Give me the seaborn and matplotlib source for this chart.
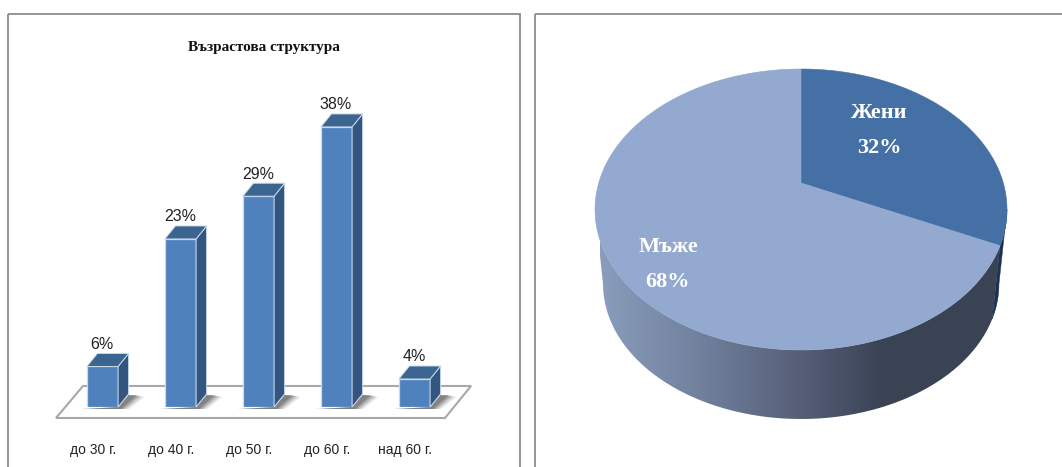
import numpy as np
import pandas as pd
import matplotlib
matplotlib.use("Agg")
import matplotlib.pyplot as plt
import seaborn as sns
from matplotlib.colors import LinearSegmentedColormap
from matplotlib.patches import Polygon, Rectangle
from matplotlib.transforms import ScaledTranslation

# ---- data ----
age_groups = ["до 30 г.", "до 40 г.", "до 50 г.", "до 60 г.", "над 60 г."]
age_shares = [5.5, 22.8, 28.6, 38.0, 3.8]
gender_names = ["Жени", "Мъже"]
gender_shares = [32, 68]
chart_title = "Възрастова структура"

sns.set_theme(style="white")
plt.rcParams["font.family"] = ["Liberation Sans", "DejaVu Sans"]

W, H = 1062, 467
fig = plt.figure(figsize=(W / 100, H / 100), dpi=100, facecolor="white")

# reference-pixel canvas used for frames, floor and the 3D faces
bg = fig.add_axes([0, 0, 1, 1], zorder=0)
bg.set_xlim(0, W)
bg.set_ylim(H, 0)
bg.axis("off")

FRAME = "#8E8E8E"
for x0, x1 in [(8, 520), (535, W + 20)]:
    bg.add_patch(Rectangle((x0, 14), x1 - x0, H + 20 - 14, fill=False, ec=FRAME, lw=1.3))

# ---- bar chart ----
ax = fig.add_axes([63.5 / W, 1 - 407 / H, 390 / W, 294.8 / H], zorder=2)
ax.patch.set_alpha(0)
df = pd.DataFrame({"age": age_groups, "share": age_shares})
sns.barplot(data=df, x="age", y="share", ax=ax, color="#4F81BD", width=0.4, saturation=1,
            edgecolor="#C9D9EC", linewidth=0.9, zorder=3)
ax.set_ylim(0, 40)
ax.set_xlim(-0.5, 4.5)
ax.set_xlabel("")
ax.set_ylabel("")
ax.set_yticks([])
for s in ax.spines.values():
    s.set_visible(False)
ax.tick_params(axis="x", length=0, pad=26, labelsize=10, labelcolor="#222222")
shift = ScaledTranslation(-9 / 100, 0, fig.dpi_scale_trans)
for lab in ax.get_xticklabels():
    lab.set_transform(lab.get_transform() + shift)

# floor
bg.add_patch(Polygon([(56, 418), (445, 418), (471, 386), (83, 386)], closed=True,
                     fc="white", ec="#A8A8A8", lw=1.5, zorder=1))


def to_px(x, y):
    return bg.transData.inverted().transform(ax.transData.transform((x, y)))


DX, DY = 10.5, -13
for bar, share in zip(ax.patches, age_shares):
    x0, w = bar.get_x(), bar.get_width()
    lx, ty = to_px(x0, share)
    rx, by = to_px(x0 + w, 0)
    # soft floor shadow, built from stacked translucent layers
    for grow, alpha in [(8, 0.10), (6, 0.13), (4, 0.17), (2, 0.22), (0, 0.28)]:
        bg.add_patch(Polygon([(lx - grow, by + 2), (rx + 3 + grow, by + 2),
                              (rx + DX + 8 + grow, by - 12 + grow / 4),
                              (rx + DX, by - 12), (rx, by)], closed=True,
                             fc="#3E3E3E", ec="none", alpha=alpha, zorder=2))
    ax.add_patch(Polygon([(rx, ty), (rx + DX, ty + DY), (rx + DX, by + DY), (rx, by)], closed=True,
                         transform=bg.transData, fc="#325680", ec="#C9D9EC", lw=0.7, zorder=4, clip_on=False))
    ax.add_patch(Polygon([(lx, ty), (rx, ty), (rx + DX, ty + DY), (lx + DX, ty + DY)], closed=True,
                         transform=bg.transData, fc="#3C6491", ec="#C9D9EC", lw=0.7, zorder=4, clip_on=False))
    bg.text((lx + rx) / 2 - 0.5, ty + DY - 9, f"{share:.0f}%", ha="center", va="center",
            fontsize=11.5, color="#222222", zorder=6)

bg.text(264, 47, chart_title, ha="center", va="center", fontsize=11, color="#111111",
        family=["Liberation Serif", "DejaVu Serif"], fontweight="bold", zorder=6)

# ---- pie chart: wedges come from ax.pie, then get a perspective projection ----
pie_ax = fig.add_axes([0.6, 0.2, 0.3, 0.6], zorder=-1)
wedges, _ = pie_ax.pie(gender_shares, startangle=90, counterclock=False)
pie_ax.set_visible(False)

CX, APEX_Y, A, K, P = 801.0, 183.0, 202.3, 0.1886, -135.5
SCALE, BOT_Y = 0.961, 258.5


def project(theta_deg, scale=1.0, q=APEX_Y):
    t = np.radians(theta_deg)
    u, v = np.cos(t), np.sin(t)
    w = 1 + K * v
    return np.column_stack([CX + scale * A * u / w, q + scale * P * v / w])


face_colors = {"Жени": "#4470A6", "Мъже": "#93A9CF"}
for wedge, name in zip(wedges, gender_names):
    arc = project(np.linspace(wedge.theta1, wedge.theta2, 240))
    pts = np.vstack([[CX, APEX_Y], arc])
    bg.add_patch(Polygon(pts, closed=True, fc=face_colors[name], ec=face_colors[name], lw=0.4, zorder=5))

women = wedges[0]
split = (women.theta1 % 360)
left_t, right_t = 180 + 10.87, 360 - 10.87


def rim(t0, t1):
    th = np.linspace(t0, t1, 200)
    return np.vstack([project(th), project(th, SCALE, BOT_Y)[::-1]])


cmap = LinearSegmentedColormap.from_list(
    "rim", [(0.0, "#8A9DBC"), (0.25, "#70809D"), (0.49, "#565F77"), (0.70, "#3A4354"), (1.0, "#3A4354")])
men_rim = Polygon(rim(left_t, split), closed=True, fc="none", ec="none", zorder=3)
bg.add_patch(men_rim)
im = bg.imshow(np.linspace(0, 1, 256)[None, :], cmap=cmap, extent=(600, 1006, 425, 190),
               aspect="auto", zorder=3)
im.set_clip_path(men_rim)
bg.add_patch(Polygon(rim(split, right_t), closed=True, fc="#1C3252", ec="#1C3252", lw=0.3, zorder=3))
bg.set_xlim(0, W)
bg.set_ylim(H, 0)

PIE_SERIF = ["Liberation Serif", "DejaVu Serif"]
label_xy = [(879, 113, 148), (668, 247, 282)]
for (x, y1, y2), name, share in zip(label_xy, gender_names, gender_shares):
    bg.text(x, y1, name, ha="center", va="center", fontsize=16, fontweight="bold", color="white",
            family=PIE_SERIF, zorder=6)
    bg.text(x, y2, f"{share}%", ha="center", va="center", fontsize=16, fontweight="bold", color="white",
            family=PIE_SERIF, zorder=6)

fig.savefig("out.png", dpi=100, facecolor="white")
